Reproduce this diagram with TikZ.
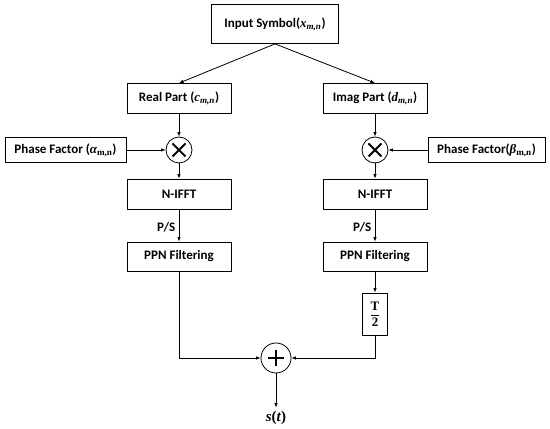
\documentclass[tikz,border=0pt]{standalone}
\usepackage{amsmath}
\usepackage{fontspec}
\setmainfont{Carlito}
\newfontfamily\varfont{Liberation Serif}
\usetikzlibrary{positioning,arrows.meta}

\newcommand{\symv}[2]{{\varfont\itshape #1}\textsubscript{\varfont\itshape #2}}
\newcommand{\symg}[2]{{\varfont\itshape #1}\textsubscript{\varfont #2}}

\begin{document}
\begin{tikzpicture}[
  x=1pt, y=1pt,
  block/.style={rectangle, draw, line width=0.8pt, minimum width=104pt, minimum height=30pt, inner sep=2pt},
  mult/.style={circle, draw, line width=0.8pt, minimum size=26pt, inner sep=0pt},
  times/.style={mult, path picture={
    \draw[line width=1.8pt] ([shift={(-6.5pt,-6.5pt)}]path picture bounding box.center) -- ([shift={(6.5pt,6.5pt)}]path picture bounding box.center);
    \draw[line width=1.8pt] ([shift={(-6.5pt,6.5pt)}]path picture bounding box.center) -- ([shift={(6.5pt,-6.5pt)}]path picture bounding box.center);}},
  plus/.style={mult, minimum size=30pt, path picture={
    \draw[line width=1.8pt] ([xshift=-8pt]path picture bounding box.center) -- ([xshift=8pt]path picture bounding box.center);
    \draw[line width=1.8pt] ([yshift=-8pt]path picture bounding box.center) -- ([yshift=8pt]path picture bounding box.center);}},
  flow/.style={-{Latex[length=4.5pt,width=3.5pt]}, line width=0.8pt},
  font=\fontsize{13}{15}\selectfont\bfseries
]
\useasboundingbox (0,0) rectangle (550,429);

% Input
\node[block, minimum width=127pt, minimum height=39pt] (input) at (275,405) {Input Symbol(\symv{x}{m,n})};

% Real branch
\node[block, below of=input, node distance=74.5pt, xshift=-96pt] (real) {Real Part (\symv{c}{m,n})};
\node[times, below of=real, node distance=51.5pt] (mulre) {};
\node[block, left of=mulre, node distance=113.5pt, minimum width=121pt, minimum height=25pt] (alpha) {Phase Factor (\symg{α}{m,n})};
\node[block, below of=mulre, node distance=44pt] (ifftre) {N-IFFT};
\node[block, below of=ifftre, node distance=62.5pt, minimum height=29pt] (ppnre) {PPN Filtering};

% Imag branch
\node[block, right of=real, node distance=196pt] (imag) {Imag Part (\symv{d}{m,n})};
\node[times, below of=imag, node distance=51.5pt] (mulim) {};
\node[block, right of=mulim, node distance=111.5pt, minimum width=117pt, minimum height=25pt] (beta) {Phase Factor(\symg{β}{m,n})};
\node[block, below of=mulim, node distance=44pt] (ifftim) {N-IFFT};
\node[block, below of=ifftim, node distance=62.5pt, minimum height=29pt] (ppnim) {PPN Filtering};
\node[block, below of=ppnim, node distance=57.5pt, minimum width=25pt, minimum height=42pt, inner sep=1pt] (half) {$\dfrac{\text{\varfont\bfseries T}}{\text{\varfont\bfseries 2}}$};

% Summer and output
\node[plus, below of=input, node distance=334pt, xshift=1pt] (sum) {};
\node[below of=sum, node distance=60pt, font=\fontsize{15}{17}\selectfont\bfseries\varfont] (out) {\textit{s}(\textit{t})};

% Connections
\draw[flow] (input.south) -- (real.north);
\draw[flow] (input.south) -- (imag.north);
\draw[flow] (real) -- (mulre);
\draw[flow] (imag) -- (mulim);
\draw[flow] (alpha) -- (mulre);
\draw[flow] (beta) -- (mulim);
\draw[flow] (mulre) -- (ifftre);
\draw[flow] (mulim) -- (ifftim);
\draw[flow] (ifftre) -- node[left, pos=0.55] {P/S} (ppnre);
\draw[flow] (ifftim) -- node[left, pos=0.55] {P/S} (ppnim);
\draw[flow] (ppnim) -- (half);
\draw[flow] (ppnre) |- (sum);
\draw[flow] (half) |- (sum);
\draw[flow] (sum) -- (out);
\end{tikzpicture}
\end{document}
